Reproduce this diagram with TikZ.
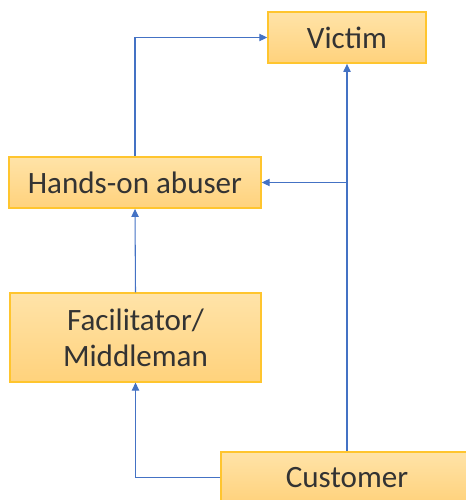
\documentclass[tikz,border=0pt]{standalone}
\usepackage{fontspec}
\setmainfont{Carlito}
\usetikzlibrary{arrows.meta}

\definecolor{boxline}{HTML}{FFC52E}
\definecolor{boxtop}{HTML}{FFE3A8}
\definecolor{boxbot}{HTML}{FFD27C}
\definecolor{linkblue}{HTML}{4472C4}

\tikzset{
  role/.style={draw=boxline, line width=1.1pt, top color=boxtop, bottom color=boxbot,
    text=black!80, font=\fontsize{23.3}{27}\selectfont, align=center, inner sep=0pt},
  link/.style={draw=linkblue, line width=0.8pt, -{Triangle[length=6pt,width=5.5pt]}}
}

\begin{document}
\begin{tikzpicture}[x=0.75pt,y=-0.75pt]

    \clip (0,0) rectangle (466,500);

    % roles
    \node[role, minimum width=118.5pt, minimum height=38.5pt] (victim) at (347,37.5) {Victim};
    \node[role, minimum width=189pt, minimum height=38.5pt] (abuser) at (135,182.5) {Hands-on abuser};
    \node[role, minimum width=188pt, minimum height=66.5pt] (facil) at (135.5,337.5) {Facilitator/\\Middleman};
    \node[role, minimum width=189pt, minimum height=38.5pt] (customer) at (347,477.5) {Customer};

    % links
    \draw[link] (abuser.north) |- (victim.west);
    \draw[link] (customer.north) -- (victim.south);
    \coordinate (split) at (customer.north |- abuser.east);
    \draw[link] (split) -- (abuser.east);
    \draw[link] (facil.north) -- (abuser.south);
    \draw[link] (customer.west) -| (facil.south);

\end{tikzpicture}
\end{document}
